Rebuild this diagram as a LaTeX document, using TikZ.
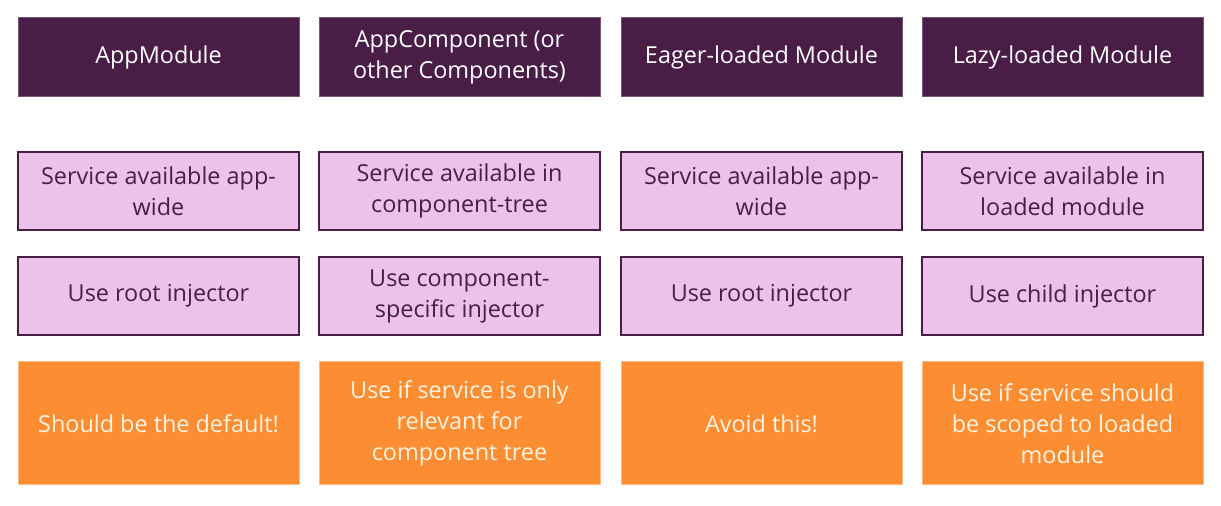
\documentclass[tikz,border=0pt]{standalone}
\usepackage{fontspec}
\setmainfont{Open Sans}
\usetikzlibrary{positioning}
\definecolor{plum}{HTML}{4A1D47}
\definecolor{lilac}{HTML}{ECC1EA}
\definecolor{tangerine}{HTML}{FD8D32}
\definecolor{cream}{HTML}{FFF3E2}

\begin{document}
\begin{tikzpicture}[x=0.5pt,y=-0.5pt,node distance=13.5pt and 10pt]
\tikzstyle{every node}=[rectangle, align=center, inner sep=0pt, outer sep=0pt, minimum width=140.5pt, font=\fontsize{11.7}{15.5}\selectfont]
\tikzstyle{head}=[fill=plum, draw=plum!75!white, text=white, line width=0.5pt, minimum height=39.5pt]
\tikzstyle{info}=[fill=lilac, draw=plum, text=plum, line width=0.8pt, minimum height=39pt]
\tikzstyle{tip}=[fill=tangerine, draw=tangerine!60!white, text=cream, line width=0.5pt, minimum height=61.5pt]

\useasboundingbox (0,0) rectangle (1221,506);

% header row
\node[head] (AM) at (158.5,57.5) {AppModule};
\node[head] (AC) [right=10pt of AM] {AppComponent (or\\other Components)};
\node[head] (EM) [right=10.5pt of AC] {Eager-loaded Module};
\node[head] (LM) [right=10pt of EM] {Lazy-loaded Module};

% availability
\node[info] (AMa) [below=27.5pt of AM] {Service available app-\\wide};
\node[info] (ACa) [below=27.5pt of AC] {Service available in\\component-tree};
\node[info] (EMa) [below=27.5pt of EM] {Service available app-\\wide};
\node[info] (LMa) [below=27.5pt of LM] {Service available in\\loaded module};

% injector
\node[info] (AMi) [below=of AMa] {Use root injector};
\node[info] (ACi) [below=of ACa] {Use component-\\specific injector};
\node[info] (EMi) [below=of EMa] {Use root injector};
\node[info] (LMi) [below=of LMa] {Use child injector};

% advice
\node[tip] (AMt) [below=of AMi] {Should be the default!};
\node[tip] (ACt) [below=of ACi] {Use if service is only\\relevant for\\component tree};
\node[tip] (EMt) [below=of EMi] {Avoid this!};
\node[tip] (LMt) [below=of LMi] {Use if service should\\be scoped to loaded\\module};
\end{tikzpicture}
\end{document}
